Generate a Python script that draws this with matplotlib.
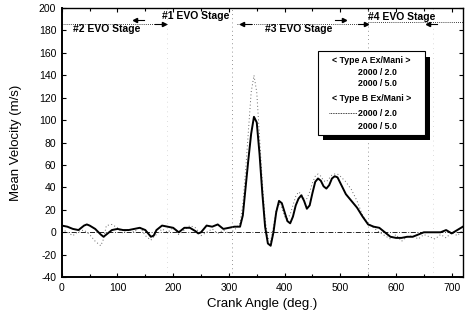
import numpy as np
import matplotlib
matplotlib.use("Agg")
import matplotlib.pyplot as plt
import matplotlib.patheffects as pe
from matplotlib.patches import Rectangle

plt.rcParams['font.family'] = ['Liberation Sans', 'DejaVu Sans']
plt.rcParams['axes.unicode_minus'] = False

# crank angle (deg) and mean velocity (m/s)
angle = [0, 10, 20, 30, 40, 45, 50, 60, 70, 75, 80, 90, 100, 110, 120, 130, 140, 150,
         160, 165, 170, 180, 190, 200, 210, 220, 230, 240, 245, 250, 260, 270, 280, 290,
         300, 310, 320, 325, 330, 335, 340, 345, 350, 355, 360, 365, 370, 375, 380, 385,
         390, 395, 400, 405, 410, 415, 420, 425, 430, 435, 440, 445, 450, 455, 460, 465,
         470, 475, 480, 485, 490, 495, 500, 510, 520, 530, 540, 550, 560, 570, 580, 590,
         600, 610, 620, 630, 640, 650, 660, 670, 680, 690, 700, 710, 720]
vel_solid = [6, 5, 3, 2, 6, 7, 6, 3, -2, -4, -2, 2, 3, 2, 2, 3, 4, 2,
             -4, -3, 2, 6, 5, 4, 0, 4, 4, 1, -1, 0, 6, 5, 7, 3,
             4, 5, 5, 15, 40, 65, 88, 103, 98, 70, 35, 5, -10, -12, 0, 18,
             28, 26, 18, 10, 8, 14, 24, 30, 33, 28, 21, 24, 35, 45, 48, 46,
             41, 39, 42, 48, 50, 49, 44, 34, 28, 22, 14, 7, 5, 4, 0, -4,
             -5, -5, -4, -4, -2, 0, 0, 0, 0, 2, -1, 2, 5]
vel_dotted = [3, 0, -3, 1, 2, 0, -2, -8, -12, -6, 6, 7, 4, -1, 3, 0, 5, -3,
              -7, -4, -2, 3, 0, 4, -2, 2, 6, 4, 1, -3, 0, 3, -1, 2,
              -1, 2, 8, 25, 55, 90, 125, 140, 125, 85, 45, 12, -5, -8, 5, 20,
              26, 22, 14, 12, 16, 24, 32, 36, 34, 30, 30, 36, 44, 50, 52, 50,
              46, 45, 48, 51, 52, 52, 50, 45, 38, 28, 15, 8, 4, 0, -3, -6,
              -2, -8, -4, -3, -6, -2, -4, -6, -2, -5, 0, -3, 2]

stage_labels = ['#1 EVO Stage', '#2 EVO Stage', '#3 EVO Stage', '#4 EVO Stage']
stage_label_x = [241, 81, 426, 610]
stage_label_y = [193, 181, 181, 192]
stage_bounds = [305, 550]
arrow_x = [140, 176, 332, 499, 539, 666]
arrow_y = [189, 186, 186, 189, 186, 186]
arrow_dir = ['<', '>', '<', '>', '>', '<']

fig = plt.figure(figsize=(4.68, 3.23), dpi=100)
ax = fig.add_axes([0.132, 0.142, 0.857, 0.833])

ax.plot([0, 720], [0, 0], color='k', lw=0.6, ls=(0, (6, 2, 1, 2)))
ax.plot(angle, vel_dotted, color='0.4', lw=0.7, ls=(0, (1, 2.5)))
ax.plot(angle, vel_solid, color='k', lw=1.4)

for xb in stage_bounds:
    ax.plot([xb, xb], [-40, 200], color='0.45', lw=0.6, ls=(0, (1, 4)))
for xb in [188, 666]:
    ax.plot([xb, xb], [-40, 200], color='0.75', lw=0.5, ls=(0, (1, 6)))

# stage span lines and arrows
ax.plot([0, 188], [186, 186], color='k', lw=0.6, ls=(0, (1, 1.5)))
ax.plot([315, 540], [186, 186], color='k', lw=0.6, ls=(0, (1, 1.5)))
ax.plot([550, 720], [188, 188], color='k', lw=0.6, ls=(0, (1, 1.5)))
for xa, ya, m in zip(arrow_x, arrow_y, arrow_dir):
    ax.plot([xa - 8, xa + 8], [ya, ya], color='k', lw=0.8)
    ax.plot(xa + (8 if m == '>' else -8), ya, marker=m, color='k', ms=3)

for lab, xl, yl in zip(stage_labels, stage_label_x, stage_label_y):
    ax.text(xl, yl, lab, ha='center', va='center', fontsize=7.5, fontweight='bold')

ax.set_xlim(0, 720)
ax.set_ylim(-40, 200)
ax.set_xticks(np.arange(0, 701, 100))
ax.set_xticks(np.arange(0, 721, 50), minor=True)
ax.set_yticks(np.arange(-40, 201, 20))
ax.tick_params(direction='in', which='both', top=True, right=True, labelsize=7.5,
               length=3, width=0.8, pad=4)
ax.tick_params(which='minor', length=2)
for s in ax.spines.values():
    s.set_linewidth(1.0)
ax.spines['bottom'].set_linewidth(1.4)
ax.spines['left'].set_linewidth(1.4)
ax.set_xlabel('Crank Angle (deg.)', fontsize=9.5, labelpad=4)
ax.set_ylabel('Mean Velocity (m/s)', fontsize=9.5, labelpad=12)

# legend box drawn by hand to match the original layout
x0, y0, w, h = 0.638, 0.53, 0.267, 0.31
box = Rectangle((x0, y0), w, h, transform=ax.transAxes, facecolor='white',
                edgecolor='k', lw=0.8, zorder=5)
box.set_path_effects([pe.SimplePatchShadow(offset=(4, -4), shadow_rgbFace='k', alpha=1),
                      pe.Normal()])
ax.add_patch(box)
rows = ['< Type A Ex/Mani >', '2000 / 2.0', '2000 / 5.0',
        '< Type B Ex/Mani >', '2000 / 2.0', '2000 / 5.0']
row_y = [0.805, 0.762, 0.72, 0.665, 0.61, 0.561]
for r, yy in zip(rows, row_y):
    if r.startswith('<'):
        ax.text(x0 + w / 2, yy, r, transform=ax.transAxes, ha='center', va='center',
                fontsize=6.3, fontweight='bold', zorder=6)
    else:
        ax.text(x0 + 0.1, yy, r, transform=ax.transAxes, ha='left', va='center',
                fontsize=6.3, fontweight='bold', zorder=6)
ax.plot([x0 + 0.028, x0 + 0.098], [row_y[4], row_y[4]], transform=ax.transAxes,
        color='k', lw=0.6, ls=(0, (1, 1)), zorder=6)

fig.savefig('out.png', dpi=100)
